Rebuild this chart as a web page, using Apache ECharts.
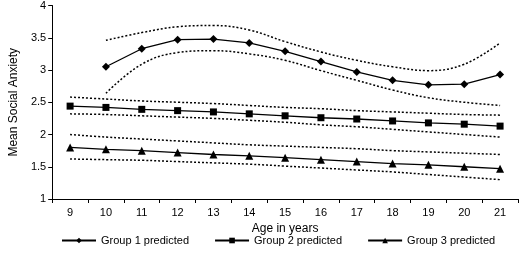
<!DOCTYPE html>
<html>
<head>
<meta charset="utf-8">
<script src="https://cdn.jsdelivr.net/npm/echarts@6/dist/echarts.min.js"></script>
<style>
  html, body { margin: 0; padding: 0; background: #fff; }
  #chart { width: 519px; height: 257px; }
</style>
</head>
<body>
<div id="chart"></div>
<script>
// ages on the x axis
const ages = ['9', '10', '11', '12', '13', '14', '15', '16', '17', '18', '19', '20', '21'];

// predicted means
const group1 = [null, 3.05, 3.33, 3.47, 3.48, 3.42, 3.29, 3.13, 2.97, 2.84, 2.77, 2.78, 2.93];
const group2 = [2.44, 2.42, 2.39, 2.37, 2.35, 2.32, 2.29, 2.26, 2.24, 2.21, 2.18, 2.16, 2.13];
const group3 = [1.80, 1.77, 1.75, 1.72, 1.69, 1.67, 1.64, 1.61, 1.58, 1.55, 1.53, 1.50, 1.47];

// confidence bands (dotted)
const group1Upper = [null, 3.46, 3.58, 3.67, 3.69, 3.62, 3.44, 3.28, 3.15, 3.05, 2.99, 3.09, 3.42];
const group1Lower = [null, 2.64, 3.09, 3.27, 3.30, 3.25, 3.15, 2.99, 2.84, 2.69, 2.57, 2.50, 2.45];
const group2Upper = [2.58, 2.55, 2.52, 2.50, 2.48, 2.45, 2.42, 2.40, 2.37, 2.35, 2.33, 2.31, 2.30];
const group2Lower = [2.32, 2.31, 2.29, 2.27, 2.25, 2.22, 2.19, 2.15, 2.12, 2.08, 2.04, 2.00, 1.96];
const group3Upper = [2.00, 1.96, 1.93, 1.90, 1.87, 1.84, 1.82, 1.80, 1.78, 1.75, 1.73, 1.71, 1.69];
const group3Lower = [1.62, 1.61, 1.60, 1.58, 1.56, 1.54, 1.51, 1.48, 1.45, 1.42, 1.38, 1.34, 1.30];

const yTicks = { min: 1, max: 4, interval: 0.5 };

const FONT = 'Liberation Sans, Arial, sans-serif';

const mainSeries = function (name, data, symbol, size) {
    return {
        name: name,
        type: 'line',
        data: data,
        symbol: symbol,
        symbolSize: size,
        showAllSymbol: true,
        connectNulls: false,
        lineStyle: { color: '#000', width: 1.3 },
        itemStyle: { color: '#000', borderWidth: 0 },
        z: 3
    };
};

const bandSeries = function (data) {
    return {
        type: 'line',
        data: data,
        smooth: 0.4,
        symbol: 'none',
        lineStyle: { color: '#000', width: 1.5, type: [2, 2] },
        silent: true,
        z: 2
    };
};

const option = {
    animation: false,
    textStyle: { fontFamily: FONT, color: '#000' },
    grid: { left: 42, right: 1, top: 5, bottom: 58 },
    legend: {
        bottom: 6,
        left: 56,
        itemWidth: 34,
        itemHeight: 7,
        itemGap: 25,
        textStyle: { fontFamily: FONT, fontSize: 11, color: '#000' },
        data: ['Group 1 predicted', 'Group 2 predicted', 'Group 3 predicted']
    },
    xAxis: {
        type: 'category',
        data: ages,
        name: 'Age in years',
        nameLocation: 'middle',
        nameGap: 24,
        nameTextStyle: { fontFamily: FONT, fontSize: 12, color: '#000' },
        axisLine: { lineStyle: { color: '#000', width: 1 } },
        axisTick: { show: true, length: 4, lineStyle: { color: '#000' } },
        axisLabel: { fontFamily: FONT, fontSize: 11, color: '#000', margin: 8 },
        splitLine: { show: false }
    },
    yAxis: {
        type: 'value',
        min: yTicks.min,
        max: yTicks.max,
        interval: yTicks.interval,
        name: 'Mean Social Anxiety',
        nameLocation: 'middle',
        nameRotate: 90,
        nameGap: 27,
        nameTextStyle: { fontFamily: FONT, fontSize: 12, color: '#000' },
        axisLine: { show: true, lineStyle: { color: '#000', width: 1 } },
        axisTick: { show: true, length: 4, lineStyle: { color: '#000' } },
        axisLabel: { fontFamily: FONT, fontSize: 11, color: '#000', margin: 6 },
        splitLine: { show: false }
    },
    series: [
        bandSeries(group1Upper),
        bandSeries(group1Lower),
        bandSeries(group2Upper),
        bandSeries(group2Lower),
        bandSeries(group3Upper),
        bandSeries(group3Lower),
        mainSeries('Group 1 predicted', group1, 'diamond', 8),
        mainSeries('Group 2 predicted', group2, 'rect', 7),
        mainSeries('Group 3 predicted', group3, 'triangle', 8)
    ]
};

const chart = echarts.init(document.getElementById('chart'), null, { renderer: 'canvas' });
chart.setOption(option);
</script>
</body>
</html>
